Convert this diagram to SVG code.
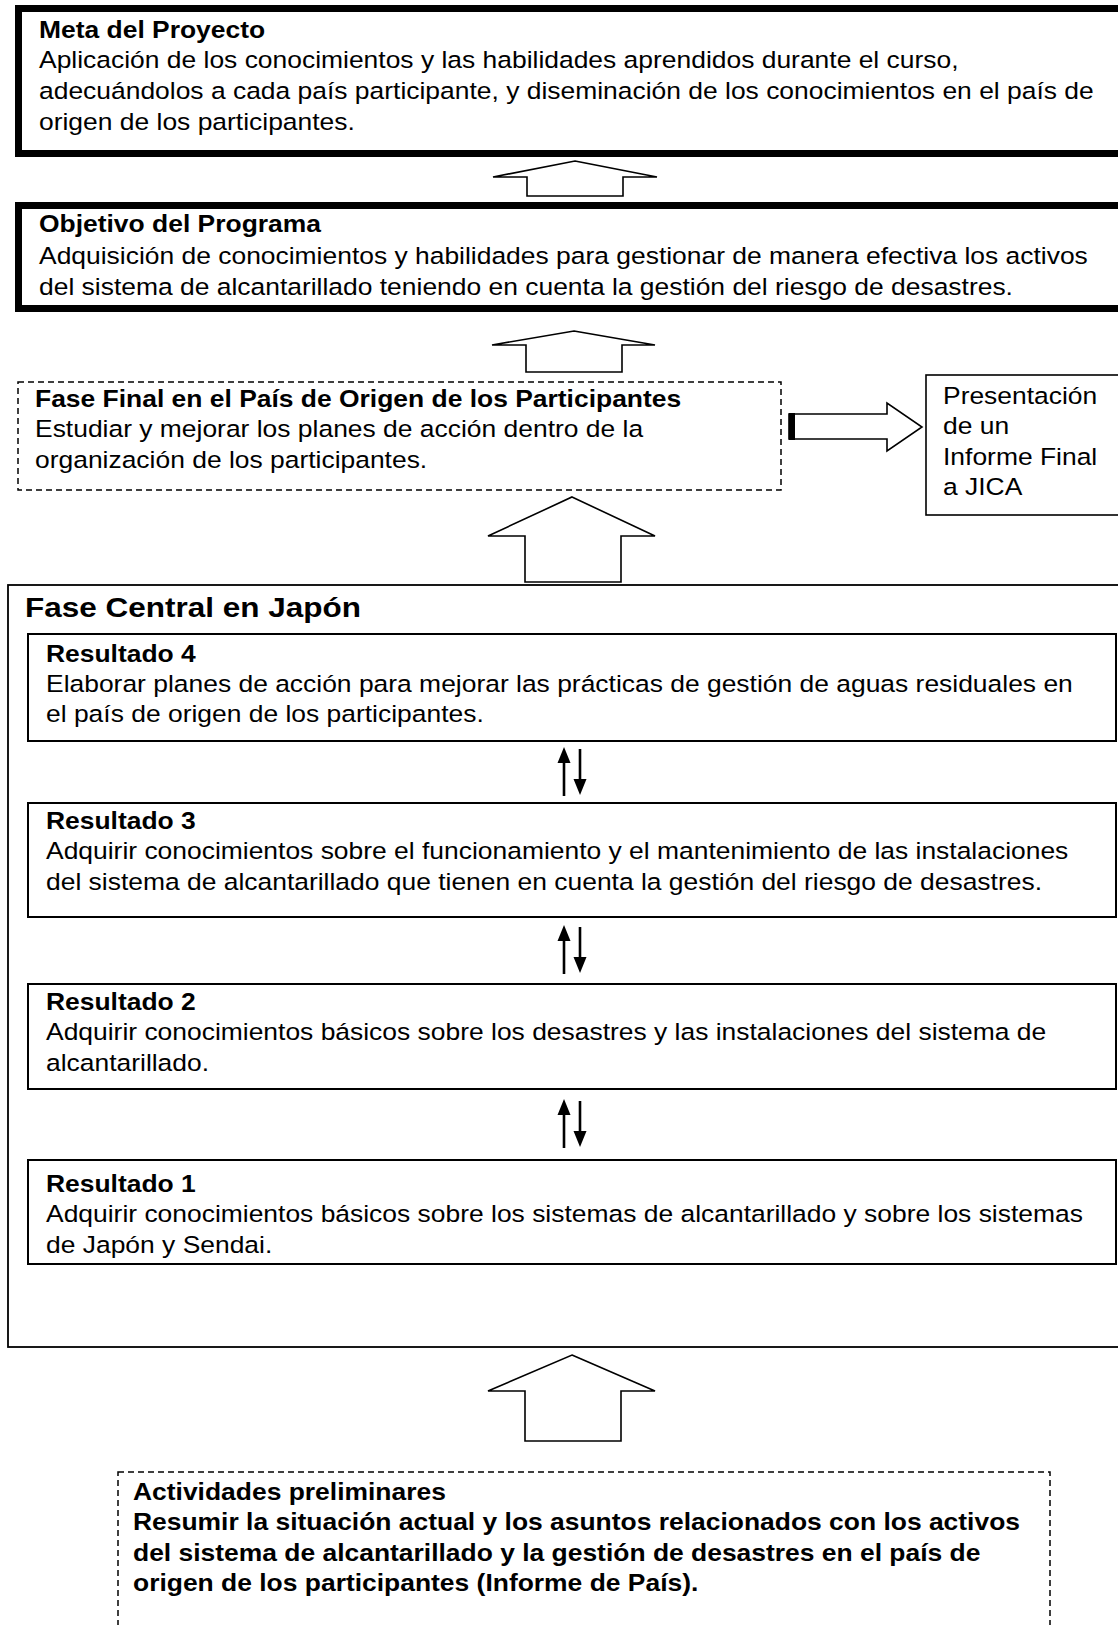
<svg xmlns="http://www.w3.org/2000/svg" width="1118" height="1625" viewBox="0 0 1118 1625">
<style>
text{font-family:"Liberation Sans",Arial,sans-serif;font-size:23.5px;fill:#000}
.b{font-weight:bold}
.big{font-weight:bold;font-size:28px}
.thick{fill:#fff;stroke:#000;stroke-width:7}
.thin{fill:#fff;stroke:#000;stroke-width:2}
.dash{fill:#fff;stroke:#000;stroke-width:1.5;stroke-dasharray:6 4}
.hollow{fill:#fff;stroke:#000;stroke-width:1.6;stroke-linejoin:miter}
.ln{stroke:#000;stroke-width:2.6;fill:none}
.hd{fill:#000;stroke:none}
</style>
<rect width="1118" height="1625" fill="#fff"/>

<g id="meta">
<rect class="thick" x="18.5" y="8.5" width="1115" height="145"/>
<g transform="translate(39 37.5) scale(1.125 1)">
<text class="b">Meta del Proyecto</text>
<text y="30.6">Aplicación de los conocimientos y las habilidades aprendidos durante el curso,</text>
<text y="61.4">adecuándolos a cada país participante, y diseminación de los conocimientos en el país de</text>
<text y="92.2">origen de los participantes.</text>
</g>
</g>

<g id="objetivo">
<rect class="thick" x="18.5" y="205.5" width="1115" height="103"/>
<g transform="translate(39 232) scale(1.125 1)">
<text class="b">Objetivo del Programa</text>
<text y="31.8">Adquisición de conocimientos y habilidades para gestionar de manera efectiva los activos</text>
<text y="63">del sistema de alcantarillado teniendo en cuenta la gestión del riesgo de desastres.</text>
</g>
</g>

<g id="fase-final">
<rect class="dash" x="18" y="382" width="763" height="108"/>
<g transform="translate(35 407) scale(1.125 1)">
<text class="b">Fase Final en el País de Origen de los Participantes</text>
<text y="30.5">Estudiar y mejorar los planes de acción dentro de la</text>
<text y="61">organización de los participantes.</text>
</g>
</g>

<g id="informe-final">
<rect class="thin" x="926" y="375" width="200" height="140" style="stroke-width:1.6"/>
<g transform="translate(943 404) scale(1.125 1)">
<text>Presentación</text>
<text y="30.5">de un</text>
<text y="61">Informe Final</text>
<text y="91.5">a JICA</text>
</g>
</g>

<g id="fase-central">
<rect class="thin" x="8" y="585" width="1120" height="762" style="stroke-width:1.8"/>
<g transform="translate(25 617) scale(1.125 1)">
<text class="big">Fase Central en Japón</text>
</g>
</g>

<g id="resultado-4">
<rect class="thin" x="28" y="634" width="1088" height="107"/>
<g transform="translate(46 661.5) scale(1.125 1)">
<text class="b">Resultado 4</text>
<text y="30.5">Elaborar planes de acción para mejorar las prácticas de gestión de aguas residuales en</text>
<text y="61">el país de origen de los participantes.</text>
</g>
</g>

<g id="resultado-3">
<rect class="thin" x="28" y="803" width="1088" height="114"/>
<g transform="translate(46 829) scale(1.125 1)">
<text class="b">Resultado 3</text>
<text y="30.5">Adquirir conocimientos sobre el funcionamiento y el mantenimiento de las instalaciones</text>
<text y="61">del sistema de alcantarillado que tienen en cuenta la gestión del riesgo de desastres.</text>
</g>
</g>

<g id="resultado-2">
<rect class="thin" x="28" y="984" width="1088" height="105"/>
<g transform="translate(46 1010) scale(1.125 1)">
<text class="b">Resultado 2</text>
<text y="30.5">Adquirir conocimientos básicos sobre los desastres y las instalaciones del sistema de</text>
<text y="61">alcantarillado.</text>
</g>
</g>

<g id="resultado-1">
<rect class="thin" x="28" y="1160" width="1088" height="104"/>
<g transform="translate(46 1192) scale(1.125 1)">
<text class="b">Resultado 1</text>
<text y="30.5">Adquirir conocimientos básicos sobre los sistemas de alcantarillado y sobre los sistemas</text>
<text y="61">de Japón y Sendai.</text>
</g>
</g>

<g id="actividades">
<rect class="dash" x="118" y="1472" width="932" height="200"/>
<g transform="translate(133 1500) scale(1.125 1)">
<text class="b">Actividades preliminares</text>
<text class="b" y="30.5">Resumir la situación actual y los asuntos relacionados con los activos</text>
<text class="b" y="61">del sistema de alcantarillado y la gestión de desastres en el país de</text>
<text class="b" y="91.5">origen de los participantes (Informe de País).</text>
</g>
</g>

<g id="connectors">
<polygon class="hollow" points="575,161 657,177 623,177 623,196 527,196 527,177 493,177"/>
<polygon class="hollow" points="574,331 655,345 622,345 622,372 526,372 526,345 492,345"/>
<polygon class="hollow" points="572,497 655,536 621,536 621,582 525,582 525,536 488,536"/>
<polygon class="hollow" points="572,1355 655,1391 621,1391 621,1441 525,1441 525,1391 488,1391"/>
<g>
<polygon class="hollow" points="789,414 887,414 887,403 922,427 887,451 887,439 789,439"/>
<rect x="789" y="413" width="6" height="27" fill="#000"/>
</g>
<g>
<line class="ln" x1="564" y1="796" x2="564" y2="760"/>
<polygon class="hd" points="557.5,763 564,747 570.5,763"/>
<line class="ln" x1="580" y1="749" x2="580" y2="782"/>
<polygon class="hd" points="573.5,779 580,795 586.5,779"/>
</g>
<g>
<line class="ln" x1="564" y1="974" x2="564" y2="938"/>
<polygon class="hd" points="557.5,941 564,925 570.5,941"/>
<line class="ln" x1="580" y1="927" x2="580" y2="960"/>
<polygon class="hd" points="573.5,957 580,973 586.5,957"/>
</g>
<g>
<line class="ln" x1="564" y1="1148" x2="564" y2="1112"/>
<polygon class="hd" points="557.5,1115 564,1099 570.5,1115"/>
<line class="ln" x1="580" y1="1101" x2="580" y2="1134"/>
<polygon class="hd" points="573.5,1131 580,1147 586.5,1131"/>
</g>
</g>
</svg>
